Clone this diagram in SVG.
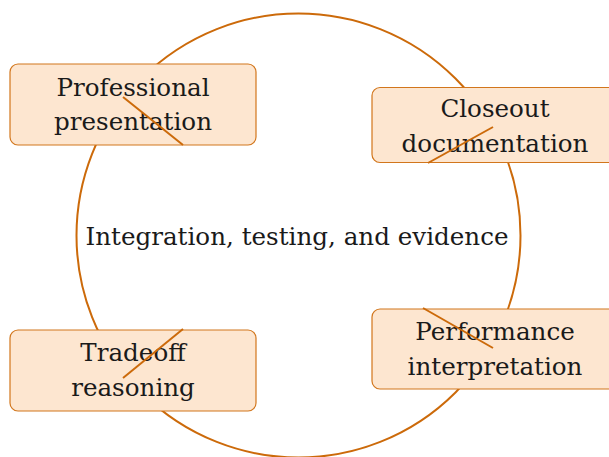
<svg xmlns="http://www.w3.org/2000/svg" width="609" height="457" viewBox="0 0 609 457">
<style>
.ring{fill:none;stroke:#cc6a0a;stroke-width:2}
.box{fill:#fde6d0;stroke:#d2761c;stroke-width:1.2}
.lbl{font-family:"DejaVu Serif","Liberation Serif",serif;font-size:24.6px;fill:#1a1a1a;text-anchor:middle}
.conn{stroke:#cc6a0a;stroke-width:2;fill:none}
</style>
<rect width="609" height="457" fill="#ffffff"/>
<g id="hub">
<circle class="ring" cx="298.5" cy="235.5" r="222"/>
<text class="lbl" x="297" y="245">Integration, testing, and evidence</text>
</g>
<g id="node-professional">
<rect class="box" x="10" y="64" width="246" height="81" rx="8"/>
<text class="lbl" x="133" y="95.5">Professional</text>
<text class="lbl" x="133" y="130">presentation</text>
</g>
<g id="node-closeout">
<rect class="box" x="372" y="87.5" width="246" height="75" rx="8"/>
<text class="lbl" x="495" y="116.5">Closeout</text>
<text class="lbl" x="495" y="151.5">documentation</text>
</g>
<g id="node-performance">
<rect class="box" x="372" y="309" width="246" height="80" rx="8"/>
<text class="lbl" x="495" y="339.5">Performance</text>
<text class="lbl" x="495" y="375">interpretation</text>
</g>
<g id="node-tradeoff">
<rect class="box" x="10" y="330" width="246" height="81" rx="8"/>
<text class="lbl" x="133" y="361">Tradeoff</text>
<text class="lbl" x="133" y="396">reasoning</text>
</g>
<g id="connectors">
<line class="conn" x1="123" y1="97" x2="183" y2="145"/>
<line class="conn" x1="493" y1="127" x2="428" y2="163"/>
<line class="conn" x1="423" y1="308" x2="493" y2="348"/>
<line class="conn" x1="183" y1="329" x2="123" y2="378"/>
</g>
</svg>
